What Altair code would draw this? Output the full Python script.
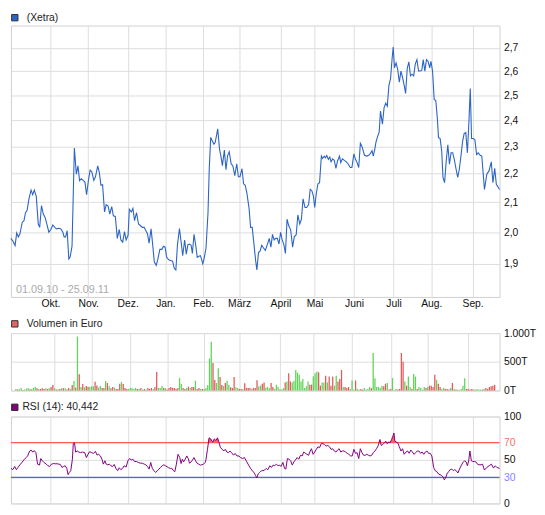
import altair as alt
import pandas as pd

# ---------------- data (x = trading-day index, 0 = 01.09.2010) ----------------
month_idx = [22, 43, 65, 86, 107, 127, 150, 169, 191, 213, 234, 257]
month_lbl = ["Okt.", "Nov.", "Dez.", "Jan.", "Feb.", "März", "April", "Mai", "Juni", "Juli", "Aug.", "Sep."]

price_idx = [0, 1.2, 2.3, 3.2, 4.1, 5.0, 6.3, 7.2, 8.1, 9.0, 10.1, 11.2, 12.1, 13.0, 14.1, 15.2, 16.0, 17.0, 18.0, 19.0,
             20.2, 21.1, 22.2, 23.3, 24.4, 25.3, 26.6, 27.8, 28.9, 29.6, 30.4, 31.3, 32.2, 32.9, 34.0, 35.3, 36.4, 37.3, 38.2, 39.1,
             40.2, 41.2, 42.1, 43.2, 44.1, 45.0, 46.1, 47.0, 48.3, 49.2, 50.1, 51.0, 52.1, 53.0, 54.1, 55.0, 56.1, 57.0, 58.1, 59.2,
             60.3, 61.2, 62.2, 63.2, 64.1, 65.2, 65.9, 67.0, 67.9, 68.8, 69.9, 71.0, 72.0, 73.1, 74.2, 75.1, 76.0, 76.9, 78.0, 78.9,
             79.8, 80.9, 81.8, 82.9, 84.0, 84.9, 85.8, 86.7, 87.8, 88.9, 90.0, 90.9, 91.8, 92.7, 93.8, 94.7, 95.6, 96.7, 97.6, 98.5,
             99.4, 100.3, 101.0, 101.9, 102.8, 103.7, 104.6, 105.5, 106.8, 107.5, 108.6, 109.7, 110.4, 111.2, 112.1, 113.0, 113.7,
             114.6, 115.1, 116.1, 117.0, 117.7, 118.8, 119.7, 120.6, 121.5, 122.6, 123.5, 124.6, 125.7, 126.6, 127.5, 128.6, 129.5,
             130.4, 131.3, 132.5, 133.4, 134.3, 135.3, 136.2, 136.9, 137.8, 138.7, 139.6, 140.5, 141.6, 142.7, 143.8, 144.7, 145.6,
             146.5, 147.4, 148.3, 149.2, 150.1, 151.0, 151.9, 152.8, 153.7, 154.6, 155.7, 156.8, 157.7, 158.8, 159.7, 160.8, 161.7,
             162.6, 163.7, 164.6, 165.7, 166.6, 167.5, 168.4, 169.1, 170.0, 170.9, 171.8, 172.8, 173.5, 174.4, 175.1, 175.8, 176.7,
             177.5, 178.2, 179.1, 180.0, 180.9, 181.8, 182.9, 183.6, 184.5, 185.6, 186.7, 187.8, 188.9, 189.8, 190.9, 191.8, 192.7,
             193.6, 194.5, 195.4, 196.8, 198.1, 199.2, 200.3, 201.0, 201.7, 202.5, 203.2, 204.1, 205.0, 205.7, 206.8, 207.7, 208.6,
             209.5, 210.4, 211.3, 212.2, 212.8, 213.5, 214.4, 215.3, 216.2, 217.1, 218.0, 218.9, 219.7, 220.6, 221.5, 222.4, 223.3,
             224.2, 225.1, 226.0, 226.9, 227.8, 228.7, 229.5, 230.4, 231.3, 232.2, 233.1, 233.8, 234.7, 235.6, 236.5, 237.4, 238.0,
             238.9, 239.8, 240.5, 241.4, 242.3, 243.2, 244.1, 245.0, 245.9, 246.8, 247.8, 248.7, 249.6, 250.5, 251.4, 252.3, 253.2,
             254.1, 255.0, 255.7, 256.4, 257.4, 258.3, 259.2, 260.1, 261.2, 262.1, 263.6, 264.9, 266.1, 267.4, 268.3, 269.3, 270.2, 272]
price_val = [1.98, 1.97, 1.957, 1.998, 1.985, 1.995, 2.033, 2.037, 2.065, 2.073, 2.114, 2.142, 2.126, 2.142, 2.12, 2.027, 2.016, 2.089, 2.06, 2.049,
             2.022, 2.0, 2.009, 2.024, 2.016, 2.011, 2.013, 2.011, 2.0, 1.985, 1.985, 2.005, 1.915, 1.92, 1.955, 2.294, 2.198, 2.228, 2.175, 2.182,
             2.176, 2.17, 2.126, 2.18, 2.213, 2.207, 2.176, 2.188, 2.228, 2.204, 2.159, 2.161, 2.067, 2.092, 2.087, 2.06, 2.085, 2.054, 2.052, 1.98,
             2.009, 1.975, 1.968, 2.002, 1.975, 1.99, 2.076, 2.067, 2.079, 2.038, 2.065, 2.027, 2.022, 2.016, 2.016, 2.005, 1.995, 1.965, 2.011, 1.96,
             1.905, 1.895, 1.915, 1.945, 1.945, 1.955, 1.952, 1.92, 1.912, 1.91, 1.908, 1.886, 1.881, 1.96, 2.012, 1.97, 1.925, 1.975, 1.93, 1.96,
             1.962, 1.958, 1.932, 1.993, 1.96, 1.92, 1.923, 1.925, 1.9, 1.915, 1.95, 2.065, 2.22, 2.334, 2.32, 2.308, 2.315,
             2.347, 2.367, 2.29, 2.259, 2.229, 2.286, 2.214, 2.265, 2.28, 2.235, 2.229, 2.193, 2.236, 2.189, 2.189, 2.218, 2.164,
             2.159, 2.133, 2.082, 2.016, 2.016, 1.96, 1.91, 1.881, 1.935, 1.94, 1.958, 1.95, 1.942, 1.96, 1.98, 1.952, 1.993,
             1.975, 1.98, 1.98, 1.962, 2.0, 1.975, 1.96, 1.932, 2.043, 2.022, 2.008, 1.952, 1.985, 1.992, 2.057, 2.027, 2.043,
             2.112, 2.082, 2.082, 2.092, 2.145, 2.14, 2.12, 2.082, 2.131, 2.164, 2.168, 2.264, 2.255, 2.264, 2.258, 2.266, 2.252,
             2.26, 2.243, 2.254, 2.248, 2.219, 2.246, 2.264, 2.24, 2.254, 2.248, 2.243, 2.234, 2.222, 2.222, 2.272, 2.252, 2.24,
             2.222, 2.312, 2.3, 2.267, 2.264, 2.267, 2.276, 2.284, 2.264, 2.288, 2.316, 2.337, 2.355, 2.436, 2.385, 2.449, 2.468,
             2.455, 2.54, 2.567, 2.656, 2.704, 2.614, 2.635, 2.607, 2.553, 2.6, 2.573, 2.54, 2.507, 2.611, 2.639, 2.58, 2.587,
             2.58, 2.631, 2.649, 2.6, 2.6, 2.603, 2.649, 2.6, 2.649, 2.642, 2.614, 2.642, 2.6, 2.483, 2.478, 2.404, 2.333,
             2.33, 2.282, 2.187, 2.168, 2.246, 2.306, 2.234, 2.276, 2.276, 2.252, 2.216, 2.187, 2.216, 2.264, 2.318, 2.349, 2.352,
             2.276, 2.404, 2.527, 2.33, 2.33, 2.324, 2.27, 2.276, 2.267, 2.264, 2.144, 2.198, 2.21, 2.243, 2.168, 2.219, 2.162, 2.144]

# volume in thousand euro, one bar per trading day; g = rising day, r = falling day
vol_val = [28, 17, 23, 46, 11, 17, 34, 46, 23, 28, 46, 63, 40, 28, 28, 40, 28, 40, 28, 40, 63, 97,
           40, 17, 23, 28, 40, 40, 40, 17, 46, 28, 97, 165, 51, 940, 285, 63, 114, 57, 80, 68, 63,
           74, 74, 154, 86, 51, 80, 46, 46, 165, 131, 74, 40, 63, 51, 28, 28, 120, 148, 114, 46, 28, 28,
           46, 46, 28, 46, 28, 28, 46, 17, 28, 17, 46, 28, 46, 28, 63, 325, 46, 46, 80, 46, 46, 17,
           46, 63, 46, 46, 28, 46, 217, 114, 46, 28, 46, 68, 46, 63, 63, 171, 28, 46, 28, 28, 28,
           46, 97, 560, 850, 480, 182, 131, 388, 234, 97, 80, 131, 171, 97, 57, 46, 234, 57, 46, 28,
           28, 28, 126, 46, 46, 46, 28, 46, 46, 178,
           74, 85, 119, 142, 50, 62, 40, 130, 60, 28, 100, 62,
           17, 17, 40, 142, 159, 300, 159, 142, 170, 358, 312, 273, 159, 199, 45, 74, 159, 102, 102,
           250, 301, 330, 318, 85, 142, 142, 256, 142, 244, 85, 244, 85, 256, 159, 200, 358, 62, 62, 45, 62, 28,
           176, 17, 176, 28, 17, 28, 17, 45, 17, 28, 62, 40, 653, 216, 62, 62, 45, 85, 74, 119, 131, 17,
           28, 216, 6, 28, 17, 28, 653, 500, 159, 85, 244, 62, 28, 290, 244, 28, 62, 45, 17, 62, 45,
           62, 85, 85, 62, 273, 187, 119, 62, 28, 45, 28, 28, 17, 45, 131, 28, 17, 17, 6, 28, 85, 216, 28,
           28, 17, 28, 17, 17, 28, 17, 17, 17, 28, 45, 28, 62, 74, 85, 100]
vol_dir = ("grggrgggrgggrgrrrgrgrr"
           "grgrgrgrrgrgrgrgrgrrg"
           "ggrrggrrgrgrrgrrrgrrrg"
           "ggggrgrgrgrrrgrrgggrgr"
           "rrrrrrggrrgrgrrgrrgrg"
           "ggggrrggrrgrggrrrggr"
           "rgrrrrgrrr"
           "ggrrgggrrggg"
           "rggrgrrggggggggggrr"
           "gggrrggrgrrrggrrrgrrrg"
           "ggrggrrggggrggggggrrgr"
           "rgggrrrrgrggrggrggggr"
           "grrrrgrrggrrrgrgrgrgggr"
           "rrrrggggrgrrrrrr")

rsi_idx = [0, 1.0, 2.1, 3.0, 3.9, 5.0, 6.1, 7.2, 8.4, 9.3, 10.4, 11.2, 12.1, 13.0, 13.9, 14.8, 15.9, 16.6, 17.5, 18.4,
           19.5, 20.6, 21.5, 22.6, 23.8, 24.7, 25.7, 26.7, 27.5, 28.4, 29.3, 30.2, 31.1, 31.8, 32.5, 33.3, 34.2, 34.7, 35.4, 36.0,
           36.9, 37.8, 38.7, 39.8, 41.1, 42.0, 42.9, 43.8, 44.9, 46.0, 47.0, 47.9, 48.8, 49.8, 50.7, 51.4, 52.3, 53.0, 53.9, 54.8,
           55.7, 56.6, 57.5, 58.4, 59.4, 60.3, 61.2, 62.1, 63.0, 64.1, 65.1, 66.0, 67.0, 67.9, 68.8, 69.9, 70.9, 72.0, 73.1, 74.2,
           75.1, 76.0, 76.9, 77.8, 78.7, 79.6, 80.5, 81.4, 82.4, 83.3, 84.2, 85.1, 86.0, 86.9, 87.8, 88.7, 89.6, 90.5, 91.2, 92.1,
           93.0, 94.0, 94.7, 95.4, 96.1, 97.0, 97.9, 98.7, 99.4, 100.3, 101.0, 101.9, 102.8, 103.6, 104.5, 105.4, 106.3, 107.2,
           108.1, 108.6, 109.4, 110.3, 111.2, 112.3, 113.2, 114.1, 115.0, 115.9, 116.6, 117.7, 118.4, 119.3, 120.2, 121.1, 121.9,
           122.8, 123.8, 124.9, 125.8, 126.9, 127.8, 128.9, 130.0, 131.3, 132.5, 133.4, 134.3, 135.3, 136.2, 136.9, 137.6, 138.5,
           139.4, 140.3, 141.2, 142.1, 143.0, 144.1, 145.0, 145.9, 146.8, 147.7, 148.7, 149.6, 150.3, 151.4, 152.3, 153.0, 153.9,
           154.8, 155.7, 156.6, 157.5, 158.4, 159.3, 160.2, 161.2, 162.1, 163.0, 163.9, 164.8, 165.7, 166.6, 167.3, 168.2, 169.1,
           170.0, 170.9, 171.8, 172.8, 173.7, 174.6, 175.5, 176.4, 177.3, 178.2, 179.1, 180.0, 180.9, 181.8, 182.7, 183.6, 184.5,
           185.4, 186.3, 187.2, 188.1, 189.1, 190.0, 190.9, 191.8, 192.7, 193.6, 194.5, 195.4, 196.3, 197.2, 198.1, 199.0, 199.9,
           200.8, 201.7, 202.6, 203.5, 204.5, 205.4, 206.1, 207.0, 207.9, 208.6, 209.5, 210.3, 211.0, 211.9, 212.6, 213.2, 213.7,
           214.4, 215.3, 216.2, 217.1, 218.0, 218.9, 219.9, 220.8, 221.7, 222.6, 223.5, 224.4, 225.3, 226.2, 227.1, 228.0, 228.9,
           229.8, 230.7, 231.6, 232.5, 233.4, 234.3, 235.3, 236.2, 237.1, 238.0, 238.9, 239.8, 240.7, 241.2, 241.9, 242.7, 243.6,
           244.5, 245.4, 246.3, 247.0, 247.9, 248.8, 249.7, 250.6, 251.6, 252.5, 253.4, 254.1, 254.8, 255.5, 256.3, 257.0, 257.9,
           258.8, 259.7, 260.6, 261.7, 262.5, 263.6, 264.9, 266.2, 267.5, 268.6, 269.6, 270.5, 272]
rsi_val = [40.4, 38.9, 42.6, 38.9, 41.5, 44.5, 47.2, 50.2, 52.8, 54.7, 60.4, 61.5, 59.2, 60.8, 58.5, 45.3, 44.2, 51.7, 49.1, 47.2,
           45.7, 43.4, 42.6, 45.3, 46.0, 45.7, 45.7, 45.3, 44.9, 41.5, 42.6, 43.4, 40.4, 33.2, 35.8, 37.7, 50.9, 69.1, 69.8, 59.2,
           60.4, 59.2, 58.5, 59.2, 58.5, 52.8, 56.6, 59.6, 58.5, 57.7, 60.0, 55.8, 56.6, 54.7, 50.9, 45.3, 49.1, 45.3, 44.5, 45.3,
           43.4, 42.6, 44.9, 40.4, 37.7, 41.1, 38.9, 40.4, 43.4, 41.9, 49.1, 51.7, 50.2, 50.9, 48.3, 48.3, 47.2, 46.4, 46.4, 45.3,
           44.5, 42.6, 39.6, 47.2, 40.4, 37.7, 35.8, 37.4, 39.6, 41.5, 43.4, 44.5, 43.4, 42.3, 41.1, 40.4, 40.4, 37.7, 36.6, 45.3,
           56.6, 52.8, 46.0, 50.9, 47.9, 50.9, 54.7, 51.7, 46.4, 47.9, 49.8, 52.8, 49.1, 46.4, 45.3, 44.2, 44.5, 45.3,
           47.2, 50.9, 62.3, 75.5, 74.3, 70.6, 74.3, 72.5, 75.5, 69.8, 64.2, 62.3, 60.4, 62.3, 59.2, 58.5, 60.4,
           58.5, 55.8, 57.4, 54.7, 54.7, 52.8, 51.7, 52.8, 47.9, 43.4, 40.4, 37.7, 35.8, 32.1, 29.4, 34.0, 35.8,
           37.7, 37.7, 38.5, 40.4, 38.9, 43.4, 41.5, 44.2, 43.4, 45.3, 43.4, 44.2, 42.6, 47.2, 40.4, 39.6, 51.7,
           50.9, 49.1, 44.2, 47.9, 50.2, 52.8, 50.9, 55.5, 54.7, 59.2, 57.7, 56.6, 55.5, 60.4, 63.0, 56.6, 59.2,
           62.3, 65.3, 64.2, 69.1, 68.7, 67.9, 66.0, 66.8, 65.3, 62.3, 63.0, 60.4, 59.2, 61.5, 63.0, 59.2, 60.4,
           60.4, 59.2, 57.7, 56.6, 54.7, 54.7, 62.3, 57.7, 58.5, 51.7, 63.0, 58.5, 55.5, 55.5, 56.6, 55.5, 54.7,
           55.5, 58.5, 60.4, 63.0, 66.8, 73.6, 66.8, 67.9, 69.8, 71.7, 68.7, 70.9, 69.8, 73.6, 77.4, 81.1, 71.7,
           70.9, 69.8, 65.3, 60.4, 63.0, 56.6, 59.2, 60.4, 57.7, 61.5, 59.2, 56.6, 58.5, 60.4, 60.4, 57.7, 59.2,
           56.6, 59.2, 60.4, 57.7, 57.7, 54.7, 41.5, 37.7, 36.6, 34.0, 33.2, 32.1, 30.2, 27.2, 29.1, 34.0, 36.6,
           38.9, 39.6, 37.7, 38.9, 37.7, 35.1, 39.6, 43.4, 47.2, 49.1, 47.9, 43.4, 49.1, 60.4, 49.1, 48.3, 48.3,
           47.9, 45.3, 44.5, 44.5, 45.3, 38.5, 41.5, 43.4, 45.3, 40.8, 43.4, 41.5, 40.442]

price_ticks = [1.9, 2.0, 2.1, 2.2, 2.3, 2.4, 2.5, 2.6, 2.7]
vol_ticks = [0, 500, 1000]
rsi_ticks = [0, 30, 50, 70, 100]
rsi_upper = [70]
rsi_lower = [30]

# ---------------- styling ----------------
FONT = "Liberation Sans"
FS = 10.5
W = 496
H1, H2, H3 = 275.5, 58.3, 88.3
GRID = "#dcdcdc"
BLUE = "#2b63c6"
GREEN = "#62d45a"
RED = "#e05c5c"
PURPLE = "#800080"

price_df = pd.DataFrame({"i": price_idx, "p": price_val})
vol_df = pd.DataFrame({"i": list(range(len(vol_val))), "v": vol_val, "c": list(vol_dir)})
rsi_df = pd.DataFrame({"i": rsi_idx, "r": rsi_val})
one = alt.Data(values=[{"k": 1}])

lbl_expr = ("[" + ",".join("'" + m + "'" for m in month_lbl) + "][indexof(["
            + ",".join(str(v) for v in month_idx) + "], datum.value)]")
xs = alt.Scale(domain=[0, 272], nice=False, zero=False)


def x_enc(show_labels):
    if show_labels:
        ax = alt.Axis(values=month_idx, labelExpr=lbl_expr, title=None, ticks=False, domain=False,
                      grid=True, labelPadding=2, labelOverlap=False, labelFlush=False,
                      labelFontSize=FS, labelColor="#111111", labelFont=FONT)
    else:
        ax = alt.Axis(values=month_idx, labels=False, title=None, ticks=False, domain=False, grid=True)
    return alt.X("i:Q", scale=xs, axis=ax)


def y_axis(values, expr, **kw):
    return alt.Axis(orient="right", values=values, labelExpr=expr, title=None, ticks=False, domain=False,
                    grid=True, labelPadding=4, labelFlush=False, labelOverlap=False, labelFontSize=FS,
                    labelFont=FONT, labelBaseline="middle", **kw)


def legend(color, text, ty, tx):
    sq = alt.Chart(one).mark_square(size=42, color=color, opacity=1, stroke="#333333",
                                    strokeWidth=1).encode(x=alt.value(3.9), y=alt.value(ty))
    tt = alt.Chart(one).mark_text(align="left", baseline="middle", font=FONT, fontSize=FS,
                                  color="#222222").encode(x=alt.value(tx), y=alt.value(ty), text=alt.value(text))
    return sq + tt


# ---------------- main price panel ----------------
price_line = alt.Chart(price_df).mark_line(color=BLUE, strokeWidth=1.1).encode(
    x=x_enc(True),
    y=alt.Y("p:Q", scale=alt.Scale(type="log", domain=[1.8, 2.8], nice=False, zero=False),
            axis=y_axis(price_ticks, "replace(format(datum.value, '.1f'), '.', ',')", labelColor="#111111")),
)
period = alt.Chart(one).mark_text(align="left", baseline="middle", font=FONT, fontSize=11,
                                  color="#aaaaaa").encode(x=alt.value(5), y=alt.value(H1 - 6.7),
                                                          text=alt.value("01.09.10 - 25.09.11"))
main = alt.layer(price_line, period, legend(BLUE, "(Xetra)", -8, 16)).properties(width=W, height=H1)

# ---------------- volume panel ----------------
vol_bars = alt.Chart(vol_df).mark_bar(size=1.3).encode(
    x=x_enc(False),
    y=alt.Y("v:Q", scale=alt.Scale(domain=[0, 1000], nice=False),
            axis=y_axis(vol_ticks, "datum.value == 1000 ? '1.000T' : datum.value + 'T'", labelColor="#111111")),
    color=alt.Color("c:N", scale=alt.Scale(domain=["g", "r"], range=[GREEN, RED]), legend=None),
)
vol = alt.layer(vol_bars, legend("#e06666", "Volumen in Euro", -9.4, 16)).properties(width=W, height=H2)

# ---------------- RSI panel ----------------
rsi_scale = alt.Scale(domain=[0, 100], nice=False)
rsi_ax = y_axis(rsi_ticks, "'' + datum.value",
                labelColor={"condition": [{"test": "datum.value == 70", "value": "#ff6b6b"},
                                          {"test": "datum.value == 30", "value": "#8484ff"}],
                            "value": "#111111"})
rsi_fill = alt.Chart(rsi_df).transform_calculate(rc="max(datum.r, 70)").mark_area(
    color="#ff5a5a", opacity=0.95).encode(
    x=x_enc(False),
    y=alt.Y("rc:Q", scale=rsi_scale, axis=rsi_ax),
    y2=alt.datum(70),
)
rule_hi = alt.Chart(pd.DataFrame({"r": rsi_upper})).mark_rule(color="#ff5a5a", strokeWidth=1.2).encode(
    y=alt.Y("r:Q", scale=rsi_scale, axis=rsi_ax))
rule_lo = alt.Chart(pd.DataFrame({"r": rsi_lower})).mark_rule(color="#5a5aff", strokeWidth=1.2).encode(
    y=alt.Y("r:Q", scale=rsi_scale, axis=rsi_ax))
rsi_line = alt.Chart(rsi_df).mark_line(color=PURPLE, strokeWidth=1).encode(
    x=x_enc(False),
    y=alt.Y("r:Q", scale=rsi_scale, axis=rsi_ax),
)
rsi = alt.layer(rsi_fill, rule_hi, rule_lo, rsi_line,
                legend(PURPLE, "RSI (14): 40,442", -9.4, 11.6)).properties(width=W, height=H3)

lower = alt.vconcat(vol, rsi, spacing=25.7, bounds="flush")
chart = alt.vconcat(main, lower, spacing=36.2, bounds="flush", padding=0).configure_view(
    stroke="#cfcfcf", strokeWidth=1).configure_axis(gridColor=GRID, gridWidth=1)

chart.save("out.html", embed_options={"renderer": "svg", "actions": False})
